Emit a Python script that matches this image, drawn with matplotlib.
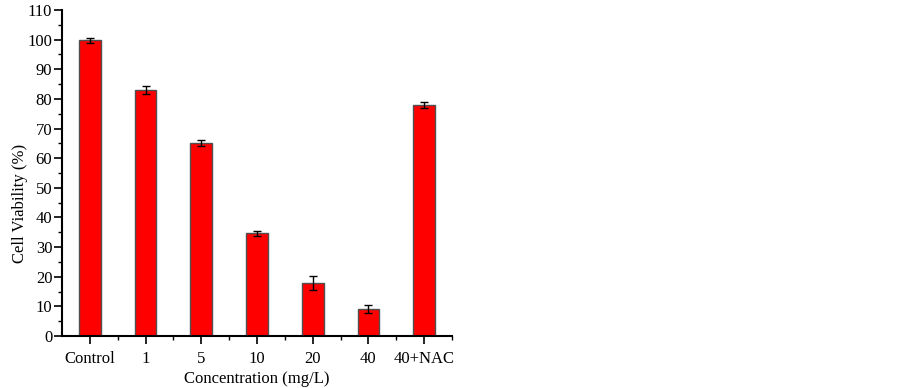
import matplotlib
matplotlib.use("Agg")
import matplotlib.pyplot as plt
from matplotlib.ticker import MultipleLocator, FixedLocator
import numpy as np

categories = ["Control", "1", "5", "10", "20", "40", "40+NAC"]
viability = [99.8, 83.0, 65.0, 34.6, 17.8, 9.0, 77.9]
errors = [0.9, 1.5, 1.0, 0.9, 2.4, 1.4, 0.9]

plt.rcParams['font.family'] = ['Liberation Serif', 'DejaVu Serif']
plt.rcParams['font.size'] = 12

fig = plt.figure(figsize=(9.02, 3.88), dpi=100)
ax = fig.add_axes([62/902, 52/388, 390/902, 326/388])

x = np.arange(1, len(categories) + 1)
ax.bar(x, viability, width=0.39, color="#ff0000", edgecolor="#505050", linewidth=1.0,
       yerr=errors, error_kw=dict(ecolor="black", elinewidth=1.0, capsize=3, capthick=1.0))

ax.set_xlim(0.5, 7.5)
ax.set_ylim(0, 110)
ax.set_xticks(x)
ax.set_xticklabels(categories)
ax.xaxis.set_minor_locator(FixedLocator(np.arange(1.5, 7.6, 1.0)))
ax.yaxis.set_major_locator(MultipleLocator(10))
ax.yaxis.set_minor_locator(MultipleLocator(5))

for s in ["top", "right"]:
    ax.spines[s].set_visible(False)
for s in ["left", "bottom"]:
    ax.spines[s].set_linewidth(1.5)

ax.tick_params(axis="both", which="major", direction="out", length=6, width=1.2, pad=1)
ax.tick_params(axis="both", which="minor", direction="out", length=3, width=1.0)
ax.tick_params(axis="x", which="major", pad=5)

ax.set_ylabel("Cell Viability (%)")
ax.yaxis.set_label_coords(-0.088, 0.408)
ax.set_xlabel("Concentration (mg/L)", labelpad=3)

fig.savefig("out.png", dpi=100)
